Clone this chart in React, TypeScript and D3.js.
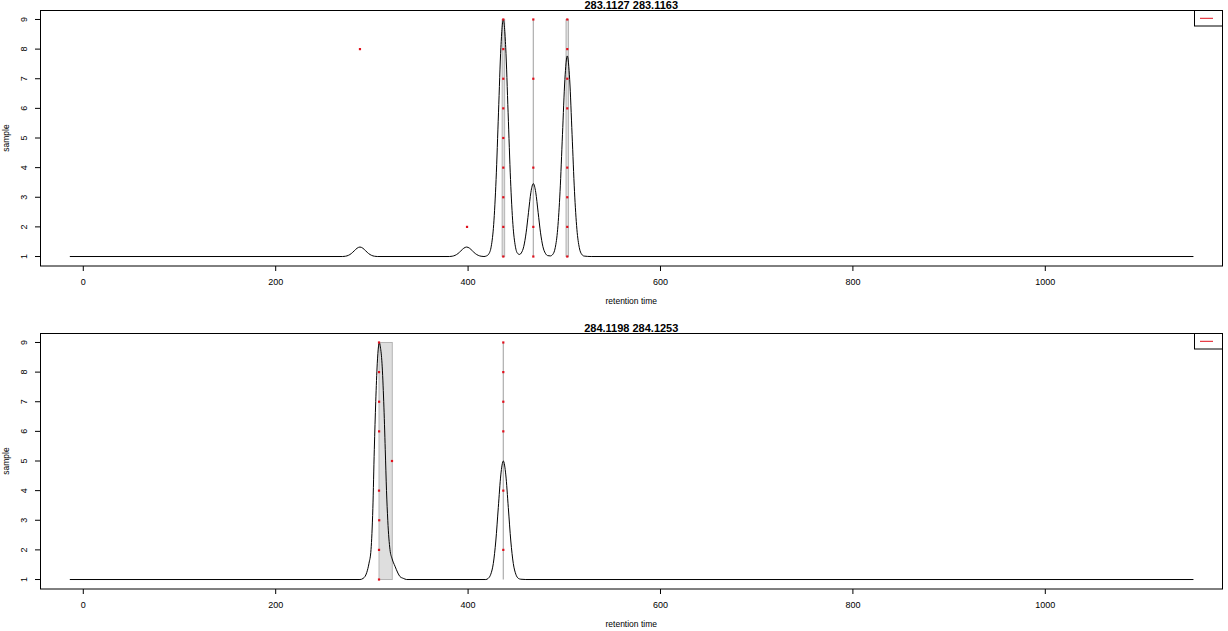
import React from 'react';
import * as d3 from 'd3';

const W = 1228;
const H = 631;

const xTicks = [0, 200, 400, 600, 800, 1000];
const yTicks = [1, 2, 3, 4, 5, 6, 7, 8, 9];
const titles = ['283.1127 283.1163', '284.1198 284.1253'];
const xLabel = 'retention time';
const yLabel = 'sample';

// [retention time, intensity on sample scale]
const topCurve: [number, number][] = [
  [-14, 1], [269.6, 1], [272.6, 1.01], [275.6, 1.04], [278.6, 1.1], [281.6, 1.19], [284.6, 1.28],
  [287.6, 1.32], [290.6, 1.28], [293.6, 1.19], [296.6, 1.1], [299.6, 1.04], [302.6, 1.01], [305.6, 1],
  [380.5, 1], [383.5, 1.01], [386.5, 1.04], [389.5, 1.1], [392.5, 1.19], [395.5, 1.28], [398.5, 1.32],
  [401.5, 1.28], [404.5, 1.19], [407.5, 1.1], [410.5, 1.04], [413.5, 1.01], [416.5, 1],
  [419.1, 1.02], [421.6, 1.09], [424.1, 1.35], [426.6, 2.08], [429.1, 3.6], [431.6, 5.85], [434.1, 8.06],
  [436.6, 9], [439.1, 8.06], [441.6, 5.85], [444.1, 3.6], [446.6, 2.08], [449.1, 1.35], [451.6, 1.1],
  [453.6, 1.07], [455.3, 1.12], [457.8, 1.33], [460.3, 1.8], [462.8, 2.49], [465.3, 3.17], [467.8, 3.46],
  [470.3, 3.17], [472.8, 2.49], [475.3, 1.8], [477.8, 1.33], [480.3, 1.11], [482.8, 1.03], [485.5, 1.02],
  [488.1, 1.075], [490.6, 1.3], [493.1, 1.92], [495.6, 3.2], [498.1, 5.11], [500.6, 6.97], [503.1, 7.77],
  [505.6, 6.97], [508.1, 5.11], [510.6, 3.2], [513.1, 1.92], [515.6, 1.3], [518.1, 1.075], [520.6, 1.015],
  [528, 1], [1154, 1],
];

const bottomCurve: [number, number][] = [
  [-14, 1], [287.6, 1], [291, 1.04], [294.6, 1.23], [297, 1.55], [299.1, 2.01], [301, 3.4], [302.5, 5.38],
  [304, 7.0], [305.6, 8.3], [306.8, 8.85], [307.7, 9], [308.8, 8.85], [310.5, 8.3], [312.3, 7.0],
  [313.9, 5.38], [315.2, 4.0], [316.5, 3.0], [318.8, 2.01], [321, 1.7], [324, 1.45], [327, 1.22],
  [329.2, 1.1], [332.6, 1.04], [336.2, 1], [418.4, 1], [421, 1.04], [423.6, 1.18], [426.2, 1.54],
  [428.8, 2.3], [431.4, 3.43], [434, 4.53], [436.6, 5], [439.2, 4.53], [441.8, 3.43], [444.4, 2.3],
  [447, 1.54], [449.6, 1.18], [452.2, 1.04], [454.8, 1.01], [460, 1], [1154, 1],
];

// peak retention-time ranges [rtmin, rtmax]
const topRanges: [number, number][] = [[435.4, 438.0], [467.8, 467.8], [501.8, 504.4]];
const bottomRanges: [number, number][] = [[307.4, 321.2], [436.6, 436.6]];

// detected points [retention time, sample]
const topPoints: [number, number][] = [
  [287.6, 8], [398.9, 2],
  [436.6, 1], [436.6, 2], [436.6, 3], [436.6, 4], [436.6, 5], [436.6, 6], [436.6, 7], [436.6, 8], [436.6, 9],
  [467.8, 1], [467.8, 2], [467.8, 4], [467.8, 7], [467.8, 9],
  [503.1, 1], [503.1, 2], [503.1, 3], [503.1, 4], [503.1, 6], [503.1, 7], [503.1, 8], [503.1, 9],
];
const bottomPoints: [number, number][] = [
  [307.4, 1], [307.4, 2], [307.6, 3], [307.4, 4], [307.5, 6], [307.5, 7], [307.4, 8], [307.4, 9],
  [320.9, 5],
  [436.6, 2], [436.6, 4], [436.6, 6], [436.6, 7], [436.6, 8], [436.6, 9],
];

const FONT = '"Liberation Sans", Arial, Helvetica, sans-serif';

type PanelProps = {
  top: number;
  title: string;
  curve: [number, number][];
  ranges: [number, number][];
  points: [number, number][];
};

function Panel({ top, title, curve, ranges, points }: PanelProps) {
  const left = 40;
  const right = 1222.5;
  const bottom = top + 256;
  const x = d3.scaleLinear().domain([-45, 1184.2]).range([left, right]);
  const y = d3.scaleLinear().domain([0.68, 9.32]).range([bottom, top]);
  const line = d3
    .line<[number, number]>()
    .x((d) => x(d[0]))
    .y((d) => y(d[1]))
    .curve(d3.curveMonotoneX);
  const cx = (left + right) / 2;
  const cy = (top + bottom) / 2;
  return (
    <g>
      <text x={cx} y={top - 0.8} textAnchor="middle" fontFamily={FONT} fontWeight="bold" fontSize={11}>
        {title}
      </text>
      {ranges.map((r, i) => {
        const w = x(r[1]) - x(r[0]);
        return w > 0.2 ? (
          <rect
            key={i}
            x={x(r[0])}
            y={y(9)}
            width={w}
            height={y(1) - y(9)}
            fill="#dedede"
            stroke="#b4b4b4"
            strokeWidth={1}
          />
        ) : (
          <line key={i} x1={x(r[0])} x2={x(r[0])} y1={y(9)} y2={y(1)} stroke="#adadad" strokeWidth={1.2} />
        );
      })}
      <path d={line(curve) || ''} fill="none" stroke="#000" strokeWidth={1} />
      {points.map((p, i) => (
        <rect key={i} x={x(p[0]) - 1.1} y={y(p[1]) - 1.1} width={2.2} height={2.2} fill="#e0101c" />
      ))}
      <rect x={left + 0.5} y={top + 0.5} width={right - left - 0.5} height={bottom - top - 0.5} fill="none" stroke="#000" strokeWidth={1} />
      {xTicks.map((t) => (
        <g key={t}>
          <line x1={x(t)} x2={x(t)} y1={bottom} y2={bottom + 5} stroke="#000" />
          <text x={x(t)} y={bottom + 19} textAnchor="middle" fontFamily={FONT} fontSize={9}>
            {t}
          </text>
        </g>
      ))}
      {yTicks.map((t) => (
        <g key={t}>
          <line x1={left - 5} x2={left} y1={y(t)} y2={y(t)} stroke="#000" />
          <text
            transform={`translate(${27.3},${y(t)}) rotate(-90)`}
            textAnchor="middle"
            fontFamily={FONT}
            fontSize={9}
          >
            {t}
          </text>
        </g>
      ))}
      <text x={cx} y={bottom + 38} textAnchor="middle" fontFamily={FONT} fontSize={8.5}>
        {xLabel}
      </text>
      <text transform={`translate(${8.5},${cy}) rotate(-90)`} textAnchor="middle" fontFamily={FONT} fontSize={8.5}>
        {yLabel}
      </text>
      <rect x={1194.5} y={top + 0.5} width={right - 1194.5} height={15.5} fill="#fff" stroke="#000" strokeWidth={1} />
      <line x1={1200} x2={1213} y1={top + 8.3} y2={top + 8.3} stroke="#e0101c" strokeWidth={1} />
    </g>
  );
}

export default function App() {
  return (
    <svg
      width={W}
      height={H}
      viewBox={`0 0 ${W} ${H}`}
      style={{ position: 'absolute', left: 0, top: 0, background: '#fff' }}
    >
      <rect x={0} y={0} width={W} height={H} fill="#fff" />
      <Panel top={10} title={titles[0]} curve={topCurve} ranges={topRanges} points={topPoints} />
      <Panel top={333} title={titles[1]} curve={bottomCurve} ranges={bottomRanges} points={bottomPoints} />
    </svg>
  );
}
